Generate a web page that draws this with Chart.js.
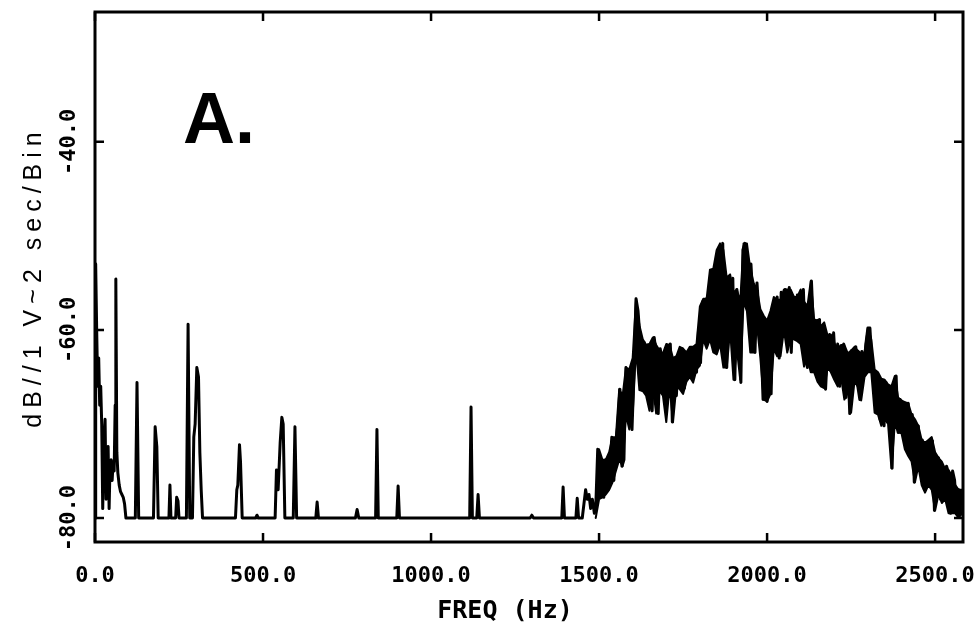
<!DOCTYPE html>
<html><head><meta charset="utf-8">
<script src="https://cdn.jsdelivr.net/npm/chart.js@4.4.1/dist/chart.umd.min.js"></script>
<style>html,body{margin:0;padding:0;background:#fff;} canvas{display:block;}</style>
</head><body>
<canvas id="c" width="977" height="622"></canvas>
<script>
// Low-frequency tonal lines (Hz, dB)
const lowFreqHz = [
  0,2,5,8,11,14,17,20,23,26,30,33,36,39,42,45,48,51,54,57,60,62,65,68,72,76,80,84,88,92,
  120,125,130,
  174,179,184,188,
  220,223,226,
  240,243,247,250,
  272,277,282,
  290,294,298,303,308,312,316,320,
  418,422,425,430,433,438,
  478,482,486,
  536,540,545,551,556,560,565,
  590,595,600,
  657,661,665,
  775,780,785,
  835,839,843,
  898,902,906,
  1115,1119,1123,
  1136,1140,1144,
  1295,1300,1305,
  1389,1393,1397,
  1431,1435,1439,
  1450,1455,1460,1465,1470,1475,1480,1486
];
const lowLevelDb = [
  -80,-53,-60,-66,-63,-68,-66,-70,-79,-72.5,-69.5,-78,-73,-72.4,-79,-74,-73.8,-76,-74,-75,-68,-54.6,-73,-75.2,-76.5,-77.2,-77.5,-77.8,-78.5,-80,
  -80,-65.6,-80,
  -80,-70.3,-72.4,-80,
  -80,-76.5,-80,
  -80,-77.8,-78.2,-80,
  -80,-59.4,-80,
  -80,-71.4,-70,-64,-65,-73,-77,-80,
  -80,-77,-76.5,-72.2,-74,-80,
  -80,-79.7,-80,
  -80,-74.9,-77,-72,-69.3,-70,-80,
  -80,-70.3,-80,
  -80,-78.3,-80,
  -80,-79.1,-80,
  -80,-70.6,-80,
  -80,-76.6,-80,
  -80,-68.2,-80,
  -80,-77.5,-80,
  -80,-79.7,-80,
  -80,-76.7,-80,
  -80,-77.9,-80,
  -80,-78.5,-77,-78,-77.5,-79,-78,-79.5
];
// Broadband part, fine trace (Hz, dB)
const bandFreqHz = [
  1490,1496,1502,1508,1514,1520,1526,1532,1538,1544,
  1550,1556,1562,1568,1574,1580,1586,1592,1598,1604,
  1610,1616,1622,1628,1634,1640,1646,1652,1658,1664,
  1670,1676,1682,1688,1694,1700,1706,1712,1718,1724,
  1730,1736,1742,1748,1754,1760,1766,1772,1778,1784,
  1790,1796,1802,1808,1814,1820,1826,1832,1838,1844,
  1850,1856,1862,1868,1874,1880,1886,1892,1898,1904,
  1910,1916,1922,1928,1934,1940,1946,1952,1958,1964,
  1970,1976,1982,1988,1994,2000,2006,2012,2018,2024,
  2030,2036,2042,2048,2054,2060,2066,2072,2078,2084,
  2090,2096,2102,2108,2114,2120,2126,2132,2138,2144,
  2150,2156,2162,2168,2174,2180,2186,2192,2198,2204,
  2210,2216,2222,2228,2234,2240,2246,2252,2258,2264,
  2270,2276,2282,2288,2294,2300,2306,2312,2318,2324,
  2330,2336,2342,2348,2354,2360,2366,2372,2378,2384,
  2390,2396,2402,2408,2414,2420,2426,2432,2438,2444,
  2450,2456,2462,2468,2474,2480,2486,2492,2498,2504,
  2510,2516,2522,2528,2534,2540,2546,2552,2558,2564,
  2570,2576,2582
];
const bandLevelDb = [
  -79,-72.7,-77.5,-74,-77.8,-73.8,-76.5,-74.5,-71.4,-76,
  -72,-70,-66.3,-74.5,-73.8,-64,-65,-69,-70.6,-64.2,
  -56.7,-58,-61,-66.4,-61.3,-64.5,-61.6,-67.7,-68.6,-60.8,
  -62.5,-68.9,-62,-63.5,-66.8,-62.4,-65,-61.5,-69.8,-63.5,
  -67,-63.2,-66,-62,-66.2,-62.5,-65,-62,-65.2,-62,
  -64.5,-60,-63.5,-57,-61,-56.7,-60.5,-54,-57,-53.5,
  -62.4,-51.5,-55,-50.8,-61.5,-64,-54.3,-60,-54.5,-65.3,
  -55.7,-58,-65.6,-51.5,-50.8,-52,-55,-53,-57,-62.4,
  -55,-58.5,-61,-67.4,-59,-67.6,-61,-66.8,-58,-60,
  -56.5,-63,-56,-58,-55.7,-61,-55.5,-62.4,-56.5,-59.5,
  -56.3,-61,-57,-55.7,-62,-64,-58,-54.8,-60,-64.5,
  -59,-58.9,-65.3,-59.5,-66.3,-62,-60.5,-63.5,-60.3,-64,
  -61.5,-66,-62,-61.5,-67.2,-63,-68.9,-62.2,-65,-61.8,
  -66,-67.4,-62.3,-64,-61.5,-59.8,-59.8,-63.5,-65.3,-68.8,
  -64.8,-69.5,-65.5,-70.2,-65.6,-67.5,-66.2,-74.7,-67,-64.9,
  -70.9,-67.4,-68.5,-67.7,-72.7,-67.8,-73.4,-69,-76.2,-71,
  -70.2,-74,-71.7,-77,-72.3,-76.5,-72,-71.8,-79.2,-74,
  -73.6,-78,-75,-77.8,-74.5,-75.2,-79.5,-75,-76,-79.5,
  -77,-78.5,-77.5
];
// Broadband part, upper and lower edges of the dense trace (Hz, dB)
const bandEnvFreqHz = [
  1490,1500,1510,1520,1530,1540,1550,1560,1570,1580,
  1590,1600,1610,1620,1630,1640,1650,1660,1670,1680,
  1690,1700,1710,1720,1730,1740,1750,1760,1770,1780,
  1790,1800,1810,1820,1830,1840,1850,1860,1870,1880,
  1890,1900,1910,1920,1930,1940,1950,1960,1970,1980,
  1990,2000,2010,2020,2030,2040,2050,2060,2070,2080,
  2090,2100,2110,2120,2130,2140,2150,2160,2170,2180,
  2190,2200,2210,2220,2230,2240,2250,2260,2270,2280,
  2290,2300,2310,2320,2330,2340,2350,2360,2370,2380,
  2390,2400,2410,2420,2430,2440,2450,2460,2470,2480,
  2490,2500,2510,2520,2530,2540,2550,2560,2570,2580
];
const bandUpperDb = [
  -79,-72.7,-73.8,-73.8,-73,-71.4,-71.4,-66.3,-67,-64,
  -64.2,-63,-56.7,-59.5,-61,-61.6,-61.5,-60.8,-61.6,-62.2,
  -62.5,-61.5,-61.6,-63,-62.8,-61.8,-62,-62.4,-61.8,-61.8,
  -61.5,-57.5,-56.7,-56.7,-53.6,-53.5,-51.5,-50.8,-51.5,-54.5,
  -54.1,-56,-55.7,-57,-50.8,-50.8,-53.5,-55,-55.7,-57.8,
  -58.5,-59,-58,-56.5,-56.8,-56.8,-55.7,-55.7,-55.7,-56.5,
  -56.5,-55.7,-57,-57.5,-54.8,-58.9,-59,-59.6,-59.2,-60.6,
  -60.5,-61.4,-62,-61.6,-61.6,-62.5,-62.2,-61.8,-62.2,-62.5,
  -62.4,-59.8,-61,-64.2,-64.5,-65.2,-65.3,-65.8,-66,-64.9,
  -67.2,-67.5,-67.7,-67.8,-69,-69.5,-70.2,-71.7,-72,-71.7,
  -71.4,-73,-73.6,-74,-74.8,-74.9,-75.5,-76.5,-77,-77
];
const bandLowerDb = [
  -80,-78,-77.8,-77.5,-77,-76.2,-75,-73.8,-74.5,-69,
  -70.6,-69,-62,-66.4,-66.5,-67,-68.6,-66,-68.9,-66.5,
  -67,-69.8,-66,-69.8,-66,-66.3,-66.8,-65.5,-65,-65.6,
  -64.2,-63.8,-61,-62,-61,-62.4,-62.6,-61.5,-64,-64,
  -60,-65.3,-62,-65.3,-57,-58,-62.4,-62.4,-59.5,-63,
  -67.4,-67.6,-66.8,-62,-62.8,-62.8,-60,-62.4,-61,-61,
  -61.2,-61.5,-63.9,-63,-64.5,-64.5,-65.5,-66,-66.2,-64,
  -64.5,-65.3,-66,-65,-67.4,-66.5,-68.8,-65.5,-66,-67.5,
  -65,-64.5,-64.5,-68.8,-69,-70.2,-69.5,-70,-74.7,-70,
  -70.9,-71,-72.7,-73.4,-74,-76.2,-74.5,-76.5,-77.3,-76.5,
  -77,-79.2,-77.5,-78.4,-78,-79.5,-79.5,-79.5,-80,-79.5
];
const xTickValues = [0, 500, 1000, 1500, 2000, 2500];
const yTickValues = [-80, -60, -40];
const xAxisTitle = 'FREQ (Hz)';
const yAxisTitle = 'dB//1 V~2 sec/Bin';
const panelLabel = 'A.';

const tracePoints = lowFreqHz.map((f, i) => ({x: f, y: lowLevelDb[i]}))
  .concat(bandFreqHz.map((f, i) => ({x: f, y: bandLevelDb[i]})));
const upperPoints = bandEnvFreqHz.map((f, i) => ({x: f, y: bandUpperDb[i]}));
const lowerPoints = bandEnvFreqHz.map((f, i) => ({x: f, y: bandLowerDb[i]}));

const tickFont = {family: '"DejaVu Sans Mono"', size: 22, weight: 'bold'};

const framePlugin = {
  id: 'frame',
  afterDatasetsDraw(chart) {
    const {ctx, chartArea: a, scales} = chart;
    ctx.save();
    ctx.strokeStyle = '#000';
    ctx.fillStyle = '#000';
    ctx.lineWidth = 3;
    ctx.strokeRect(a.left, a.top, a.right - a.left, a.bottom - a.top);
    const tl = 9;
    ctx.lineWidth = 2.5;
    scales.x.ticks.forEach(t => {
      const px = scales.x.getPixelForValue(t.value);
      ctx.beginPath();
      ctx.moveTo(px, a.bottom); ctx.lineTo(px, a.bottom - tl);
      ctx.moveTo(px, a.top); ctx.lineTo(px, a.top + tl);
      ctx.stroke();
    });
    scales.y.ticks.forEach(t => {
      const py = scales.y.getPixelForValue(t.value);
      ctx.beginPath();
      ctx.moveTo(a.left, py); ctx.lineTo(a.left + tl, py);
      ctx.moveTo(a.right, py); ctx.lineTo(a.right - tl, py);
      ctx.stroke();
    });
    // x axis title
    ctx.font = 'bold 25px "DejaVu Sans Mono"';
    ctx.textAlign = 'center';
    ctx.textBaseline = 'alphabetic';
    ctx.fillText(xAxisTitle, (a.left + a.right) / 2 - 24, a.bottom + 76);
    // y axis title
    ctx.save();
    ctx.translate(41, (a.top + a.bottom) / 2);
    ctx.rotate(-Math.PI / 2);
    ctx.font = '25px "Liberation Sans"';
    ctx.letterSpacing = '6px';
    ctx.textAlign = 'center';
    ctx.fillText(yAxisTitle, 0, 0);
    ctx.restore();
    // panel label
    ctx.font = 'bold 72px "Liberation Sans"';
    ctx.textAlign = 'left';
    ctx.fillText(panelLabel, a.left + 88, a.top + 131);
    ctx.restore();
  }
};

const lineStyle = {borderColor: '#000', pointRadius: 0, tension: 0,
  borderJoinStyle: 'round', borderCapStyle: 'round'};

new Chart(document.getElementById('c'), {
  type: 'line',
  data: {
    datasets: [
      Object.assign({data: tracePoints, borderWidth: 3, fill: false}, lineStyle),
      Object.assign({data: upperPoints, borderWidth: 2, fill: '+1', backgroundColor: '#000'}, lineStyle),
      Object.assign({data: lowerPoints, borderWidth: 2, fill: false}, lineStyle)
    ]
  },
  options: {
    responsive: false,
    animation: false,
    devicePixelRatio: 1,
    layout: {padding: {top: 12, right: 14, left: 0, bottom: 0}},
    plugins: {legend: {display: false}, tooltip: {enabled: false}},
    scales: {
      x: {
        type: 'linear', min: 0, max: 2583,
        afterBuildTicks: s => { s.ticks = xTickValues.map(v => ({value: v})); },
        afterFit: s => { s.height = 80; s.paddingLeft = 0; s.paddingRight = 0; },
        grid: {display: false},
        border: {display: false},
        ticks: {
          autoSkip: false, maxRotation: 0, minRotation: 0, padding: 13,
          color: '#000', font: tickFont,
          callback: v => Number(v).toFixed(1)
        }
      },
      y: {
        type: 'linear', min: -82.55, max: -26.2,
        afterBuildTicks: s => { s.ticks = yTickValues.map(v => ({value: v})); },
        afterFit: s => { s.width = 95; s.paddingTop = 0; s.paddingBottom = 0; },
        grid: {display: false},
        border: {display: false},
        ticks: {
          autoSkip: false, minRotation: 90, maxRotation: 90, crossAlign: 'center', padding: -15,
          color: '#000', font: tickFont,
          callback: v => Number(v).toFixed(1)
        }
      }
    }
  },
  plugins: [framePlugin]
});
</script>
</body></html>
